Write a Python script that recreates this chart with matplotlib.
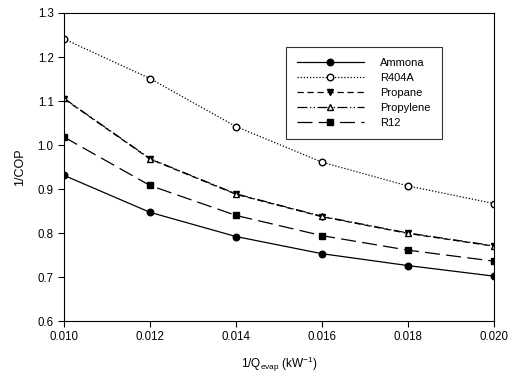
import numpy as np
import matplotlib
matplotlib.use('Agg')
import matplotlib.pyplot as plt

plt.rcParams['font.family'] = ['Liberation Sans', 'DejaVu Sans']

# inverse evaporator load (1/kW)
q_inv = [0.010, 0.012, 0.014, 0.016, 0.018, 0.020]

# inverse COP for each refrigerant
ammonia = [0.931, 0.847, 0.792, 0.753, 0.726, 0.702]
r404a = [1.241, 1.151, 1.042, 0.961, 0.907, 0.867]
propane = [1.105, 0.968, 0.888, 0.837, 0.799, 0.770]
propylene = [1.106, 0.969, 0.889, 0.838, 0.800, 0.771]
r12 = [1.018, 0.908, 0.840, 0.794, 0.761, 0.736]

labels = ['Ammona', 'R404A', 'Propane', 'Propylene', 'R12']
series = [ammonia, r404a, propane, propylene, r12]
styles = [
    dict(ls='-', marker='o', mfc='black'),
    dict(ls=(0, (1, 1.5)), marker='o', mfc='white'),
    dict(ls=(0, (5, 3)), marker='v', mfc='black'),
    dict(ls=(0, (8, 2, 1, 2, 1, 2)), marker='^', mfc='white'),
    dict(ls=(0, (12, 5)), marker='s', mfc='black'),
]

fig = plt.figure(figsize=(5.13, 3.79), dpi=100)
ax = fig.add_axes([0.1248, 0.153, 0.838, 0.8127])

for y, lab, st in zip(series, labels, styles):
    ax.plot(q_inv, y, color='black', lw=0.9, linestyle=st['ls'],
            marker=st['marker'], markerfacecolor=st['mfc'],
            markeredgecolor='black', markersize=4.7, label=lab)

ax.set_xlim(0.010, 0.020)
ax.set_ylim(0.6, 1.3)
ax.set_xticks(np.arange(0.010, 0.0201, 0.002))
ax.set_xticklabels(['%.3f' % v for v in np.arange(0.010, 0.0201, 0.002)])
ax.set_yticks(np.arange(0.6, 1.31, 0.1))
ax.set_yticklabels(['%.1f' % v for v in np.arange(0.6, 1.31, 0.1)])
ax.tick_params(direction='out', length=4, width=0.8, labelsize=8.3,
               top=False, right=False)
for s in ax.spines.values():
    s.set_linewidth(0.8)

ax.set_xlabel(r'1/Q$_{\mathregular{evap}}$ (kW$^{\mathregular{-1}}$)', fontsize=8.5, labelpad=8)
ax.set_ylabel('1/COP', fontsize=9, labelpad=8)

leg = ax.legend(loc='upper left', bbox_to_anchor=(0.516, 0.89), fontsize=8,
                handlelength=6, frameon=True, fancybox=False,
                edgecolor='black', borderpad=1.0, labelspacing=0.45,
                handletextpad=1.5, borderaxespad=0)
leg.get_frame().set_linewidth(0.8)

fig.savefig('out.png', dpi=100)
